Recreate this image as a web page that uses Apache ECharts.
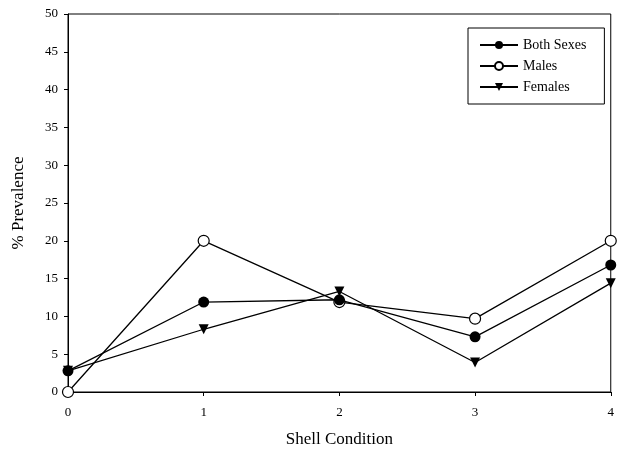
<!DOCTYPE html>
<html><head><meta charset="utf-8">
<script src="https://cdn.jsdelivr.net/npm/echarts@6/dist/echarts.min.js"></script>
<style>html,body{margin:0;padding:0;background:#fff}#c{width:617px;height:456px}</style>
</head><body><div id="c"></div>
<script>
const xValues = [0, 1, 2, 3, 4];
const bothSexes = [2.8, 11.9, 12.2, 7.3, 16.8];
const males = [0, 20.0, 11.9, 9.7, 20.0];
const females = [2.8, 8.3, 13.3, 3.9, 14.4];
const seriesNames = ['Both Sexes', 'Males', 'Females'];

const font = 'Liberation Serif';
const pairs = arr => xValues.map((x, i) => [x, arr[i]]);

const chart = echarts.init(document.getElementById('c'));
chart.setOption({
  animation: false,
  backgroundColor: '#fff',
  grid: { left: 68, right: 3, top: 14, bottom: 64, show: true, borderColor: '#000', borderWidth: 1 },
  legend: {
    orient: 'vertical', left: 468, top: 28,
    data: seriesNames,
    itemWidth: 38, itemHeight: 10, itemGap: 7,
    padding: [10, 18, 10, 11],
    borderColor: '#000', borderWidth: 1, backgroundColor: '#fff',
    textStyle: { fontFamily: font, fontSize: 14, color: '#000' }
  },
  xAxis: {
    type: 'value', min: 0, max: 4, interval: 1,
    name: 'Shell Condition', nameLocation: 'middle', nameGap: 39,
    nameTextStyle: { fontFamily: font, fontSize: 17, color: '#000' },
    axisLine: { lineStyle: { color: '#000' } },
    axisTick: { show: true, length: 4, lineStyle: { color: '#000' } },
    axisLabel: { fontFamily: font, fontSize: 13, color: '#000', margin: 14 },
    splitLine: { show: false }
  },
  yAxis: {
    type: 'value', min: 0, max: 50, interval: 5,
    name: '% Prevalence', nameLocation: 'middle', nameGap: 41, nameRotate: 90,
    nameTextStyle: { fontFamily: font, fontSize: 17, color: '#000' },
    axisLine: { show: true, lineStyle: { color: '#000' } },
    axisTick: { show: true, length: 4, lineStyle: { color: '#000' } },
    axisLabel: { fontFamily: font, fontSize: 13, color: '#000', margin: 10 },
    splitLine: { show: false }
  },
  series: [
    { name: 'Males', type: 'line', data: pairs(males), symbol: 'circle', symbolSize: 11, z: 2,
      lineStyle: { color: '#000', width: 1.3 }, itemStyle: { color: '#fff', borderColor: '#000', borderWidth: 1.2 } },
    { name: 'Females', type: 'line', data: pairs(females), symbol: 'triangle', symbolRotate: 180, symbolSize: 10, z: 3,
      lineStyle: { color: '#000', width: 1.3 }, itemStyle: { color: '#000' } },
    { name: 'Both Sexes', type: 'line', data: pairs(bothSexes), symbol: 'circle', symbolSize: 11, z: 4,
      lineStyle: { color: '#000', width: 1.3 }, itemStyle: { color: '#000' } }
  ]
});
</script></body></html>
